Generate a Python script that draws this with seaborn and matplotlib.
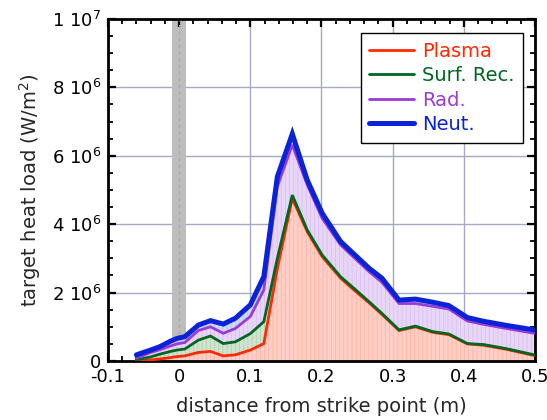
import numpy as np
import pandas as pd
import matplotlib
matplotlib.use("Agg")
import matplotlib.pyplot as plt
import seaborn as sns

# distance from strike point (m)
dist = [-0.060, -0.040, -0.027, -0.012, -0.003, 0.008, 0.027, 0.044, 0.062, 0.079,
        0.100, 0.119, 0.138, 0.159, 0.180, 0.201, 0.227, 0.247, 0.267, 0.285,
        0.309, 0.332, 0.356, 0.379, 0.405, 0.428, 0.460, 0.499]

# cumulative heat loads (1e6 W/m^2)
plasma = [0.00, 0.03, 0.06, 0.10, 0.13, 0.15, 0.25, 0.28, 0.15, 0.18,
          0.32, 0.51, 2.70, 4.75, 3.78, 3.05, 2.42, 2.05, 1.70, 1.36,
          0.89, 1.00, 0.84, 0.77, 0.50, 0.46, 0.34, 0.16]
surf_rec = [0.03, 0.12, 0.20, 0.28, 0.32, 0.35, 0.61, 0.73, 0.51, 0.56,
            0.80, 1.15, 3.00, 4.85, 3.83, 3.10, 2.46, 2.10, 1.73, 1.39,
            0.91, 1.02, 0.86, 0.79, 0.51, 0.48, 0.36, 0.18]
rad = [0.08, 0.25, 0.33, 0.44, 0.50, 0.54, 0.89, 1.00, 0.81, 0.95,
       1.30, 2.08, 5.10, 6.32, 5.15, 4.17, 3.39, 3.00, 2.61, 2.30,
       1.68, 1.68, 1.60, 1.52, 1.17, 1.07, 0.95, 0.81]
neut = [0.18, 0.32, 0.42, 0.58, 0.66, 0.71, 1.05, 1.18, 1.08, 1.25,
        1.64, 2.47, 5.39, 6.64, 5.29, 4.32, 3.49, 3.10, 2.71, 2.42,
        1.78, 1.81, 1.72, 1.62, 1.27, 1.16, 1.04, 0.91]

labels = ["Plasma", "Surf. Rec.", "Rad.", "Neut."]
line_colors = ["#ff2a00", "#006622", "#9a3ad8", "#0a22d8"]
fill_colors = ["#ffcfc6", "#cfe3cf", "#e8d6f6", "#cddaf6"]
hatch_colors = ["#ffb4a8", "#b2d2b2", "#d9bff0", "#b5c8f0"]
widths = [2.0, 2.0, 2.0, 3.6]

df = pd.DataFrame({"dist": dist, "Plasma": plasma, "Surf. Rec.": surf_rec,
                   "Rad.": rad, "Neut.": neut})
for c in labels:
    df[c] = df[c] * 1e6

sns.set_theme(style="ticks")
plt.rcParams['font.family'] = ['DejaVu Sans']
plt.rcParams['hatch.linewidth'] = 0.6

fig = plt.figure(figsize=(5.47, 4.2), dpi=100)
ax = fig.add_axes([0.1974, 0.1405, 0.7806, 0.8143])

# shaded band around the strike point
ax.axvspan(-0.0103, 0.0099, color="#bdbdbd", lw=0, zorder=0.5)
ax.axvline(0, color="#9aa4d8", lw=0.8, ls=(0, (3, 3)), zorder=0.6)

for v in [0.1, 0.2, 0.3, 0.4]:
    ax.axvline(v, color="#a6a9c2", lw=1.0, zorder=0.4)
for v in [2e6, 4e6, 6e6, 8e6]:
    ax.axhline(v, color="#a6a9c2", lw=1.0, zorder=0.4)

# stacked fills
lower = np.zeros(len(dist))
for i, c in enumerate(labels):
    upper = df[c].values
    ax.fill_between(df["dist"], lower, upper, facecolor=fill_colors[i],
                    edgecolor=hatch_colors[i], hatch="||||", lw=0, zorder=1)
    lower = upper

for i, c in reversed(list(enumerate(labels))):
    sns.lineplot(data=df, x="dist", y=c, ax=ax, color=line_colors[i],
                 lw=widths[i], label=c, zorder=3 + i, solid_joinstyle="miter")

ax.set_xlim(-0.1, 0.5)
ax.set_ylim(0, 1e7)
ax.set_xticks(np.arange(-0.1, 0.51, 0.1))
ax.set_xticklabels(["-0.1", "0", "0.1", "0.2", "0.3", "0.4", "0.5"])
ax.set_xticks(np.arange(-0.1, 0.501, 0.02), minor=True)
ax.set_yticks([0, 2e6, 4e6, 6e6, 8e6, 1e7])
ax.set_yticklabels(["0", r"2 10$^6$", r"4 10$^6$", r"6 10$^6$", r"8 10$^6$", r"1 10$^7$"])
ax.set_yticks(np.arange(0, 1e7 + 1, 5e5), minor=True)

ax.tick_params(which="both", direction="in", top=True, right=True,
               labelsize=13, colors="black", pad=5)
ax.tick_params(which="major", length=6, width=1.6)
ax.tick_params(which="minor", length=3.5, width=1.3)
for s in ax.spines.values():
    s.set_linewidth(2.0)
    s.set_color("black")

ax.set_xlabel("distance from strike point (m)", fontsize=14, labelpad=8)
ax.set_ylabel("target heat load (W/m$^2$)", fontsize=14, labelpad=6)

handles, labs = ax.get_legend_handles_labels()
order = [labs.index(l) for l in labels]
leg = ax.legend([handles[k] for k in order], [labs[k] for k in order],
                loc="upper right", bbox_to_anchor=(0.972, 0.959),
                borderaxespad=0, fontsize=14, frameon=True, fancybox=False,
                framealpha=1, edgecolor="black", handlelength=2.3,
                handletextpad=0.4, labelspacing=0.28, borderpad=0.45)
leg.get_frame().set_linewidth(1.0)
for t, col in zip(leg.get_texts(), line_colors):
    t.set_color(col)
leg.set_zorder(10)

fig.savefig("out.png", dpi=100)
